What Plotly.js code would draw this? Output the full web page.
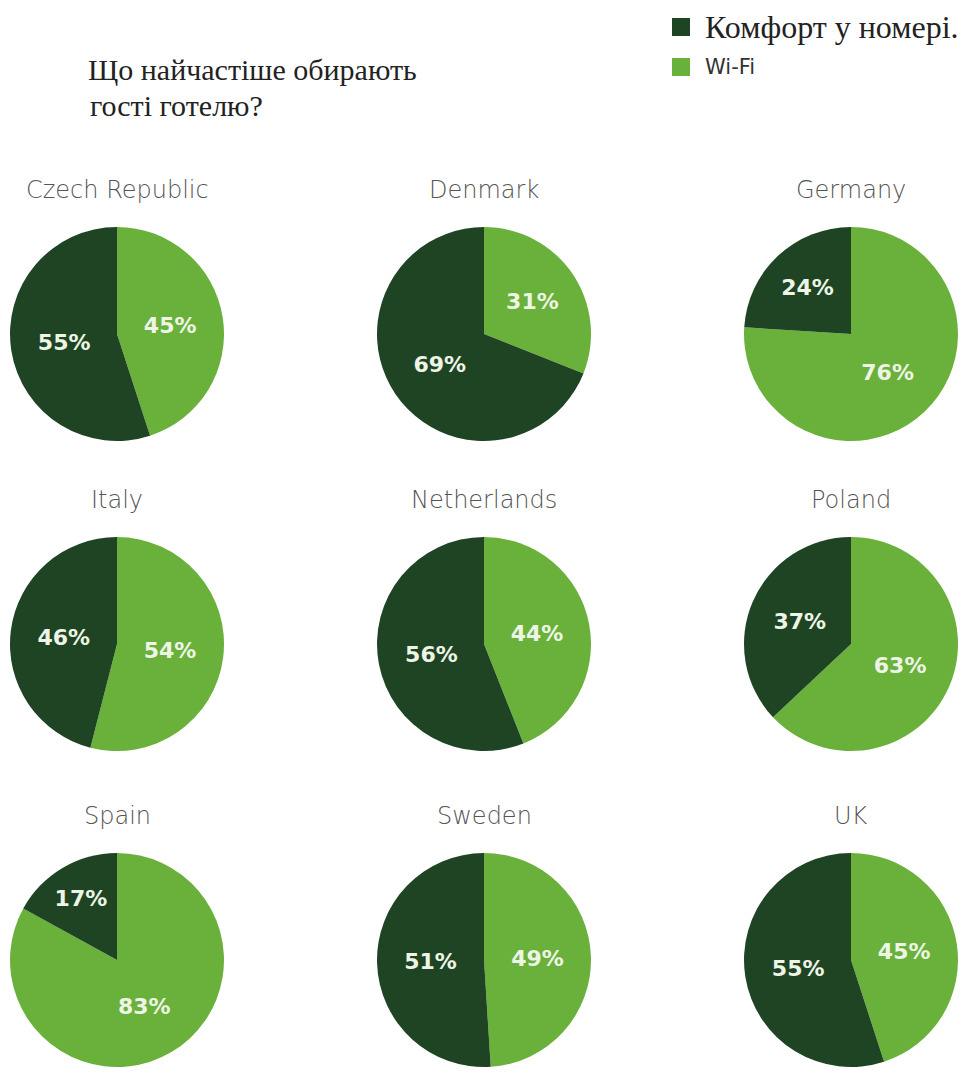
<!DOCTYPE html>
<html>
<head>
<meta charset="utf-8">
<script src="https://cdn.plot.ly/plotly-3.0.1.min.js"></script>
<style>html,body{margin:0;padding:0;background:#fff;}#chart{width:971px;height:1073px;}</style>
</head>
<body>
<div id="chart"></div>
<script>
// ---- data ----
var countries = ['Czech Republic', 'Denmark', 'Germany', 'Italy', 'Netherlands', 'Poland', 'Spain', 'Sweden', 'UK'];
var seriesLabels = ['Wi-Fi', 'Комфорт у номері.'];
var wifi    = [45, 31, 76, 54, 44, 63, 83, 49, 45];
var comfort = [55, 69, 24, 46, 56, 37, 17, 51, 55];
var titleLines = ['Що найчастіше обирають', 'гості готелю?'];

// ---- layout geometry ----
var W = 971, H = 1073;
var colCenters = [117, 484, 851];
var rowCenters = [334, 644, 960];
var R = 107;
var DARK = '#1e4424', LIGHT = '#6ab13b';

var traces = [];
var annotations = [];
countries.forEach(function (c, i) {
  var cx = colCenters[i % 3], cy = rowCenters[Math.floor(i / 3)];
  traces.push({
    type: 'pie',
    name: c,
    labels: [seriesLabels[0], seriesLabels[1]],
    values: [wifi[i], comfort[i]],
    marker: {colors: [LIGHT, DARK], line: {width: 0}},
    sort: false,
    direction: 'clockwise',
    rotation: 0,
    textposition: 'inside',
    insidetextorientation: 'horizontal',
    texttemplate: '%{value}%',
    textfont: {family: 'DejaVu Sans', size: 22, color: '#eef5e6', weight: 'bold'},
    hoverinfo: 'label+value',
    showlegend: false,
    domain: {x: [(cx - R) / W, (cx + R) / W], y: [1 - (cy + R) / H, 1 - (cy - R) / H]}
  });
  annotations.push({
    text: c, xref: 'paper', yref: 'paper', showarrow: false,
    x: cx / W, y: 1 - (cy - R - 37) / H, xanchor: 'center', yanchor: 'middle',
    font: {family: 'DejaVu Sans', size: 24, color: '#555555', weight: 300}
  });
});

// second title line
annotations.push({
  text: titleLines[1], xref: 'paper', yref: 'paper', showarrow: false,
  x: 88 / W, y: 1 - 105 / H, xanchor: 'left', yanchor: 'middle',
  font: {family: 'Liberation Serif', size: 30, color: '#222222'}
});

// custom legend (order: comfort first, then Wi-Fi)
var legendItems = [
  {label: seriesLabels[1], color: DARK, y: 27, font: {family: 'Liberation Serif', size: 32, color: '#222222'}},
  {label: seriesLabels[0], color: LIGHT, y: 67, font: {family: 'DejaVu Sans', size: 21, color: '#333333'}}
];
var shapes = [];
legendItems.forEach(function (it) {
  shapes.push({
    type: 'rect', xref: 'paper', yref: 'paper',
    x0: 672 / W, x1: 690 / W, y0: 1 - (it.y + 9) / H, y1: 1 - (it.y - 9) / H,
    fillcolor: it.color, line: {width: 0}
  });
  annotations.push({
    text: it.label, xref: 'paper', yref: 'paper', showarrow: false,
    x: 703 / W, y: 1 - it.y / H, xanchor: 'left', yanchor: 'middle',
    font: it.font
  });
});

var layout = {
  width: W, height: H,
  margin: {l: 0, r: 0, t: 0, b: 0},
  paper_bgcolor: '#ffffff',
  title: {
    text: titleLines[0], xref: 'paper', yref: 'container',
    x: 88 / W, xanchor: 'left', y: 1 - 69 / H, yanchor: 'middle',
    font: {family: 'Liberation Serif', size: 30, color: '#222222'}
  },
  showlegend: false,
  shapes: shapes,
  annotations: annotations
};

Plotly.newPlot('chart', traces, layout, {displayModeBar: false, staticPlot: true});
</script>
</body>
</html>
